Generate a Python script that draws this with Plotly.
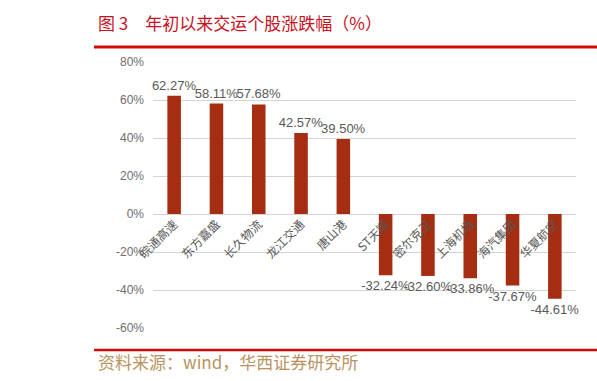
import plotly.graph_objects as go

categories = ["皖通高速", "东方嘉盛", "长久物流", "龙江交通", "唐山港",
              "ST天顺", "密尔克卫", "上海机场", "海汽集团", "华夏航空"]
values = [62.27, 58.11, 57.68, 42.57, 39.50,
          -32.24, -32.60, -33.86, -37.67, -44.61]
value_labels = [f"{v:.2f}%" for v in values]
y_ticks = [80, 60, 40, 20, 0, -20, -40, -60]
y_tick_labels = [f"{t}%" for t in y_ticks]

W, H = 597, 381
L, R, T, B = 153, 21, 62, 53
PW, PH = W - L - R, H - T - B
YMIN, YMAX = -60, 80


def px(x):
    return (x - L) / PW


def py(y):
    return (H - B - y) / PH


zero_pos = (0 - YMIN) / (YMAX - YMIN)

fig = go.Figure()
fig.add_trace(go.Bar(
    x=categories, y=values,
    marker=dict(color="#a52e12", line=dict(width=0)),
    text=value_labels, textposition="outside",
    textfont=dict(family="Liberation Sans", size=13, color="#595959"),
    constraintext="none", cliponaxis=False,
    width=0.32,
))

fig.update_layout(
    width=W, height=H,
    margin=dict(l=L, r=R, t=T, b=B, autoexpand=False),
    paper_bgcolor="white", plot_bgcolor="white",
    showlegend=False,
    yaxis=dict(
        range=[YMIN, YMAX], tickvals=y_ticks, ticktext=y_tick_labels,
        showgrid=True, gridcolor="#d4d4d4", gridwidth=1.3,
        zeroline=False, showline=False, ticks="",
        tickfont=dict(family="Liberation Sans", size=12, color="#6e6e6e"),
        ticklabelstandoff=8, automargin=False,
    ),
    xaxis=dict(
        anchor="free", position=zero_pos,
        tickangle=-45, showgrid=False, showline=False, ticks="",
        zeroline=False,
        tickfont=dict(family="Noto Sans CJK SC", size=12, color="#595959"),
        automargin=False, range=[-0.5, len(categories) - 0.5],
    ),
)

fig.add_annotation(
    x=px(96), y=py(22), xref="paper", yref="paper",
    xanchor="left", yanchor="middle", showarrow=False,
    text="图 3　年初以来交运个股涨跌幅（%）",
    font=dict(family="Noto Sans CJK SC", size=17, color="#c8101e"),
)
fig.add_shape(type="line", xref="paper", yref="paper",
              x0=px(94), x1=px(597), y0=py(47), y1=py(47),
              line=dict(color="#d40a0a", width=3))
fig.add_shape(type="line", xref="paper", yref="paper",
              x0=px(94), x1=px(597), y0=py(350), y1=py(350),
              line=dict(color="#d40a0a", width=2.5))
fig.add_annotation(
    x=px(96), y=py(361), xref="paper", yref="paper",
    xanchor="left", yanchor="middle", showarrow=False,
    text="资料来源：wind，华西证券研究所",
    font=dict(family="Noto Sans CJK SC", size=17, color="#b89462"),
)

fig.write_html("out.html")
